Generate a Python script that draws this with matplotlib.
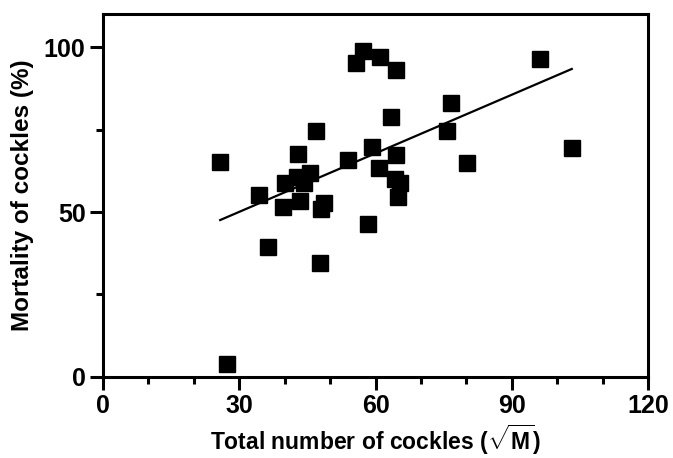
import numpy as np
import matplotlib
matplotlib.use("Agg")
import matplotlib.pyplot as plt
from matplotlib.ticker import MultipleLocator

# cockle counts (sqrt M) and mortality (%)
total_cockles = [25.8, 27.2, 34.3, 36.4, 39.7, 40.0, 43.0, 42.8, 43.4, 44.3, 45.5,
                 46.8, 47.8, 48.1, 48.6, 54.0, 55.7, 57.3, 58.3, 59.2, 60.8, 61.0,
                 63.3, 64.4, 64.4, 64.2, 65.3, 65.0, 75.8, 76.7, 80.2, 96.1, 103.2]
mortality = [65.1, 4.0, 55.2, 39.3, 51.4, 58.7, 67.6, 60.5, 53.4, 58.7, 61.9,
             74.5, 34.7, 50.9, 52.7, 65.8, 95.3, 98.7, 46.4, 69.6, 63.3, 97.0,
             78.7, 93.1, 67.4, 60.0, 58.8, 54.5, 74.7, 83.0, 64.8, 96.3, 69.5]

# regression line
fit_slope = 0.592
fit_intercept = 32.3

plt.rcParams['font.family'] = ['Liberation Sans', 'DejaVu Sans']
plt.rcParams['font.weight'] = 'bold'
plt.rcParams['mathtext.fontset'] = 'custom'
plt.rcParams['mathtext.rm'] = 'Liberation Sans:bold'
plt.rcParams['mathtext.it'] = 'Liberation Sans:bold'
plt.rcParams['mathtext.bf'] = 'Liberation Sans:bold'

fig = plt.figure(figsize=(6.73, 4.58), dpi=100)
ax = fig.add_axes([0.153, 0.177, 0.810, 0.792])

x = np.array(total_cockles)
y = np.array(mortality)
ax.plot(x, y, 's', color='black', markersize=11, zorder=3)

xf = np.array([x.min(), x.max()])
ax.plot(xf, fit_slope * xf + fit_intercept, color='black', lw=1.6, zorder=2)

ax.set_xlim(0, 120)
ax.set_ylim(0, 110)
ax.xaxis.set_major_locator(MultipleLocator(30))
ax.xaxis.set_minor_locator(MultipleLocator(10))
ax.set_yticks([0, 50, 100])
ax.set_yticks([25, 75], minor=True)

for s in ax.spines.values():
    s.set_linewidth(2.2)
ax.tick_params(which='major', direction='out', length=9.5, width=2.2,
               labelsize=18, pad=3)
ax.tick_params(which='minor', direction='out', length=5, width=2.2)

ax.set_xlabel('Total number of cockles ($\\sqrt{M}$)', fontsize=16.5,
              fontweight='bold', labelpad=3)
ax.set_ylabel('Mortality of cockles (%)', fontsize=17.5, fontweight='bold',
              labelpad=7)

fig.savefig('out.png', dpi=100)
